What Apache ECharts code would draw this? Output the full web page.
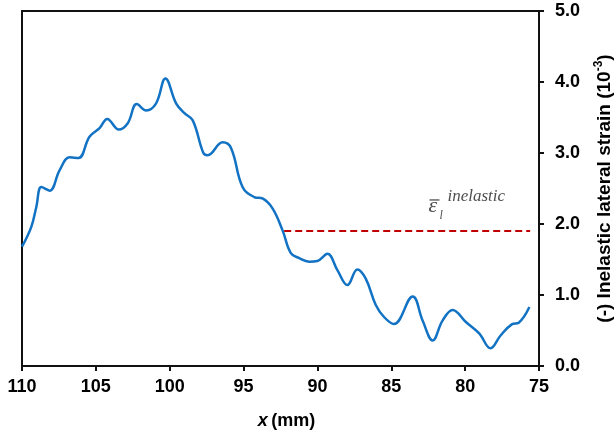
<!DOCTYPE html>
<html><head><meta charset="utf-8">
<script src="https://cdn.jsdelivr.net/npm/echarts@6/dist/echarts.min.js"></script>
<style>html,body{margin:0;padding:0;background:#fff}#c{width:614px;height:433px}</style>
</head><body><div id="c"></div>
<script>
const xPos = [110, 109.37, 109.03, 108.69, 108.13, 107.45, 106.78, 106.17, 105.43, 104.75, 104.23, 103.45, 102.84, 102.23, 101.59, 100.92, 100.29, 99.57, 99.0, 98.44, 97.72, 97.43, 96.42, 95.85, 95.07, 94.28, 93.72, 93.04, 92.36, 91.80, 91.24, 90.56, 90.0, 89.32, 88.65, 87.97, 87.30, 86.73, 86.05, 85.49, 84.82, 83.55, 82.88, 82.20, 81.53, 80.85, 79.95, 79.05, 78.28, 77.6, 76.82, 76.37, 75.65];
const strain = [1.68, 1.96, 2.24, 2.52, 2.47, 2.76, 2.94, 2.93, 3.23, 3.35, 3.48, 3.33, 3.42, 3.69, 3.60, 3.70, 4.05, 3.70, 3.56, 3.46, 3.00, 2.97, 3.15, 3.07, 2.52, 2.38, 2.36, 2.22, 1.91, 1.59, 1.52, 1.47, 1.48, 1.58, 1.35, 1.14, 1.36, 1.23, 0.86, 0.69, 0.59, 0.98, 0.64, 0.36, 0.64, 0.79, 0.62, 0.46, 0.25, 0.43, 0.59, 0.61, 0.83];
const avgX = [92.25, 75.6];
const avgValue = 1.90;
const labelAt = [82.55, 2.24];
const xTicks = [75, 80, 85, 90, 95, 100, 105, 110];
const yTicks = [0, 1, 2, 3, 4, 5];

const serif = {fontFamily: 'Liberation Serif', fontStyle: 'italic', color: '#222'};
function ann(text, size, offset, extra) {
  return {value: labelAt, label: Object.assign({show: true, position: [0, 0], align: 'left', verticalAlign: 'middle',
    formatter: text, fontSize: size, offset: offset}, serif, extra || {})};
}

const chart = echarts.init(document.getElementById('c'));
chart.setOption({
  animation: false,
  grid: {left: 22, right: 75, top: 11, bottom: 67, containLabel: false, outerBoundsMode: 'none',
         show: true, borderColor: '#111', borderWidth: 2},
  xAxis: {
    type: 'value', inverse: true, min: xTicks[0], max: xTicks[xTicks.length-1], interval: 5,
    axisLine: {show: true, lineStyle: {color: '#111', width: 2}},
    axisTick: {show: true, inside: false, length: 5, lineStyle: {color: '#111', width: 2}},
    splitLine: {show: false},
    axisLabel: {color: '#000', fontFamily: 'Liberation Sans', fontWeight: 'bold', fontSize: 18, margin: 12},
    name: '{i|x} {b|(mm)}', nameLocation: 'middle', nameGap: 46,
    nameTextStyle: {padding: [0, 0, 0, 12], rich: {
      i: {fontFamily: 'Liberation Sans', fontWeight: 'bold', fontStyle: 'italic', fontSize: 18, color: '#000'},
      b: {fontFamily: 'Liberation Sans', fontWeight: 'bold', fontSize: 18, color: '#000'}
    }}
  },
  yAxis: {
    type: 'value', position: 'right', min: yTicks[0], max: yTicks[yTicks.length-1], interval: 1,
    axisLine: {show: true, lineStyle: {color: '#111', width: 2}},
    axisTick: {show: true, inside: false, length: 5, lineStyle: {color: '#111', width: 2}},
    splitLine: {show: false},
    axisLabel: {color: '#000', fontFamily: 'Liberation Sans', fontWeight: 'bold', fontSize: 18, margin: 16,
      formatter: v => v.toFixed(1)},
    name: '{b|(-) Inelastic lateral strain (10}{s|-3}{b|)}', nameLocation: 'middle', nameRotate: 90, nameGap: 54,
    nameTextStyle: {lineHeight: 21, rich: {
      b: {fontFamily: 'Liberation Sans', fontWeight: 'bold', fontSize: 19, color: '#000', lineHeight: 21, verticalAlign: 'bottom'},
      s: {fontFamily: 'Liberation Sans', fontWeight: 'bold', fontSize: 12, color: '#000', lineHeight: 21, verticalAlign: 'top'}
    }}
  },
  series: [
    {type: 'line', data: xPos.map((x, i) => [x, strain[i]]), smooth: 0.4, showSymbol: false,
     lineStyle: {color: '#1272C4', width: 2.5}},
    {type: 'line', data: avgX.map(x => [x, avgValue]), showSymbol: false,
     lineStyle: {color: '#C00000', width: 2, type: [7, 4]}},
    {type: 'scatter', symbolSize: 0, silent: true,
     data: [
       ann('ε', 22, [1, -1]),
       ann('{b| }', 10, [2, -7], {rich: {b: {width: 10, height: 1.4, backgroundColor: '#333'}}}),
       ann('l', 12, [12, 9]),
       ann('inelastic', 17, [20, -10])
     ]}
  ]
});
</script></body></html>
